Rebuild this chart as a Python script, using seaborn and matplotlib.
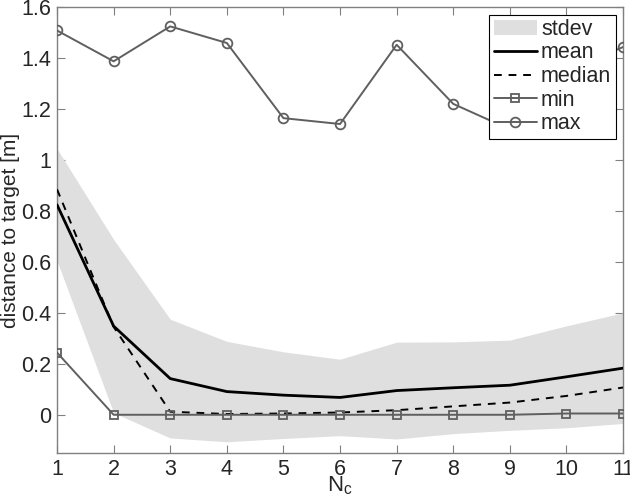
import numpy as np
import pandas as pd
import matplotlib
matplotlib.use("Agg")
import matplotlib.pyplot as plt
import seaborn as sns

# ==========================================================
# DATA
# ==========================================================

n_c = [1, 2, 3, 4, 5, 6, 7, 8, 9, 10, 11]

mean_dist = [0.824, 0.348, 0.142, 0.091, 0.077, 0.068, 0.095, 0.106, 0.116, 0.149, 0.183]
median_dist = [0.885, 0.345, 0.012, 0.003, 0.005, 0.009, 0.018, 0.033, 0.048, 0.074, 0.107]
std_dist = [0.22, 0.34, 0.233, 0.197, 0.17, 0.15, 0.19, 0.18, 0.177, 0.20, 0.217]
min_dist = [0.244, 0.0, 0.0, 0.0, 0.0, 0.0, 0.0, 0.0, 0.0, 0.005, 0.005]
max_dist = [1.508, 1.387, 1.524, 1.459, 1.164, 1.141, 1.452, 1.220, 1.12, 1.35, 1.443]

Y_TICKS = [0, 0.2, 0.4, 0.6, 0.8, 1, 1.2, 1.4, 1.6]
Y_TICK_LABELS = ["0", "0.2", "0.4", "0.6", "0.8", "1", "1.2", "1.4", "1.6"]


# ==========================================================
# STYLE
# ==========================================================

sns.set_style("ticks")
plt.rcParams["font.family"] = ["Liberation Sans", "DejaVu Sans"]
plt.rcParams["mathtext.default"] = "regular"
plt.rcParams["xtick.direction"] = "in"
plt.rcParams["ytick.direction"] = "in"

df = pd.DataFrame({
    "n_c": n_c,
    "mean": mean_dist,
    "median": median_dist,
    "std": std_dist,
    "min": min_dist,
    "max": max_dist,
})

GRAY_LINE = "#5f5f5f"


# ==========================================================
# PLOT
# ==========================================================

fig = plt.figure(figsize=(6.3, 5.03), dpi=100)
ax = fig.add_axes([0.0905, 0.0994, 0.8985, 0.8866])

ax.fill_between(df["n_c"], df["mean"] - df["std"], df["mean"] + df["std"],
                color="#dfdfdf", linewidth=0, label="stdev", zorder=1)

sns.lineplot(data=df, x="n_c", y="mean", ax=ax, color="black",
             linewidth=2, label="mean", zorder=3)
sns.lineplot(data=df, x="n_c", y="median", ax=ax, color="black",
             linewidth=1.4, linestyle=(0, (4, 3.5)), label="median", zorder=3)
sns.lineplot(data=df, x="n_c", y="min", ax=ax, color=GRAY_LINE,
             linewidth=1.4, marker="s", markersize=6, markerfacecolor="none",
             markeredgecolor=GRAY_LINE, markeredgewidth=1.3, label="min", zorder=4)
sns.lineplot(data=df, x="n_c", y="max", ax=ax, color=GRAY_LINE,
             linewidth=1.4, marker="o", markersize=7, markerfacecolor="none",
             markeredgecolor=GRAY_LINE, markeredgewidth=1.3, label="max", zorder=4)

ax.set_xlim(1, 11)
ax.set_ylim(-0.15, 1.6)
ax.set_xticks(n_c)
ax.set_yticks(Y_TICKS)
ax.set_yticklabels(Y_TICK_LABELS)

ax.tick_params(axis="both", which="both", labelsize=15.5, length=6,
               width=0.8, color="#808080", top=True, right=True, pad=4)

for spine in ax.spines.values():
    spine.set_visible(True)
    spine.set_color("#808080")
    spine.set_linewidth(1.0)

ax.set_xlabel("$N_c$", fontsize=16, labelpad=-4)
ax.set_ylabel("distance to target [m]", fontsize=15, labelpad=1)

legend = ax.legend(loc="upper right", fontsize=15.5, frameon=True, fancybox=False,
                   edgecolor="black", framealpha=1, borderpad=0.2,
                   handlelength=2.0, handletextpad=0.2, labelspacing=0.12,
                   borderaxespad=0.35)
legend.get_frame().set_linewidth(0.8)

fig.savefig("out.png", dpi=100)
